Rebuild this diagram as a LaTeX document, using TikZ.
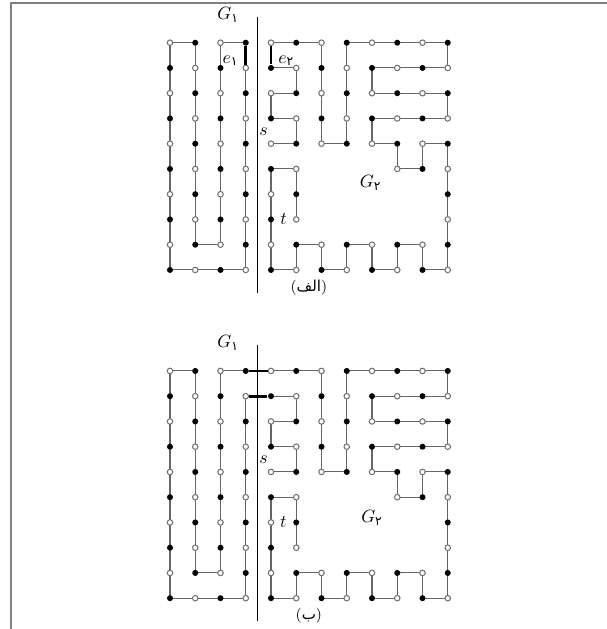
\documentclass[tikz,border=0pt]{standalone}
\usepackage{amsmath}
\usepackage{fontspec}
\newfontfamily\arabicfont[Script=Arabic]{DejaVu Sans}
\TeXXeTstate=1
\usetikzlibrary{backgrounds,positioning}
\newcommand{\fa}[1]{\text{\arabicfont #1}}

\begin{document}
\begin{tikzpicture}[x=0.5cm,y=-0.5cm,
    vtx/.style={circle,inner sep=0pt,line width=0.6pt},
    v0/.style={vtx,draw=black!55,fill=white,minimum size=3.1pt},
    v1/.style={vtx,fill=black,minimum size=3.4pt},
    edge/.style={draw=black!60,line width=0.6pt,line cap=round},
    cut/.style={draw=black,line width=1.5pt},
    divider/.style={line width=0.8pt},
    lab/.style={font=\fontsize{10}{12}\selectfont},
    caption/.style={font=\fontsize{8.5}{10}\selectfont}
  ]
    \useasboundingbox (-6.733,-1.691) rectangle (17.267,23.22);
    \draw[black!50,line width=0.7pt] (-6.297,23.4) -- (-6.297,-1.572) -- (17.4,-1.572);

    \foreach \p/\dy in {a/0,b/13}{
      \begin{scope}[shift={(0,\dy)}]
        % grid vertices, coloured by parity
        \foreach \i in {0,...,11}
          \foreach \j in {0,1,2,3,4,8,9}{
            \pgfmathtruncatemacro\odd{mod(\i+\j,2)}
            \node[v\odd] (\p-\i-\j) at (\i,\j) {};
          }
        \foreach \i in {0,1,2,3,4,5,11}
          \foreach \j in {5,6,7}{
            \pgfmathtruncatemacro\odd{mod(\i+\j,2)}
            \node[v\odd] (\p-\i-\j) at (\i,\j) {};
          }
        \foreach \i in {9,10}{
          \pgfmathtruncatemacro\odd{mod(\i+5,2)}
          \node[v\odd] (\p-\i-5) at (\i,5) {};
        }
        % path edges
        \begin{scope}[on background layer]
          \foreach \v [remember=\v as \u (initially 3-0)] in {2-0,2-8,1-8,1-0,0-0,0-9,3-9,3-1}
            \draw[edge] (\p-\u.center) -- (\p-\v.center);
          \foreach \v [remember=\v as \u (initially 4-4)] in {5-4,5-3,4-3,4-2,5-2,5-1,4-1}
            \draw[edge] (\p-\u.center) -- (\p-\v.center);
          \foreach \v [remember=\v as \u (initially 4-0)] in {5-0,6-0,6-4,7-4,7-0,11-0,11-1,8-1,
            8-2,11-2,11-3,8-3,8-4,9-4,9-5,10-5,10-4,11-4,11-9,10-9,10-8,9-8,9-9,8-9,8-8,
            7-8,7-9,6-9,6-8,5-8,5-9,4-9,4-5,5-5,5-7}
            \draw[edge] (\p-\u.center) -- (\p-\v.center);
        \end{scope}
        \draw[divider] (3.46,-1.02) -- (3.46,9.92);
        \node[lab] (\p-g1) at (2.3,-1.1) {$G_{\fa{۱}}$};
        \node[lab,above left=0pt and -3pt of \p-4-4] (\p-s) {$s$};
        \coordinate (\p-cap) at (5.5,9.7);
      \end{scope}
    }

    % (الف): one edge taken out of each cycle
    \draw[cut] (a-3-0) -- node[lab,left,yshift=-3pt]{$e_{\fa{۱}}$} (a-3-1);
    \draw[cut] (a-4-0) -- node[lab,right,yshift=-3pt]{$e_{\fa{۲}}$} (a-4-1);
    \node[lab,left] (a-t) at (a-5-7.west) {$t$};
    \node[lab] (a-g2) at (7.95,5.56) {$G_{\fa{۲}}$};
    \node[caption] (a-lab) at (a-cap) {({\arabicfont\beginR الف\endR})};

    % (ب): the two crossing edges
    \draw[cut] (b-3-0) -- (b-4-0);
    \draw[cut] (b-3-1) -- (b-4-1);
    \node[lab,left] (b-t) at (b-5-6.west) {$t$};
    \node[lab] (b-g2) at (8.0,18.82) {$G_{\fa{۲}}$};
    \node[caption] (b-lab) at (b-cap) {({\arabicfont\beginR ب\endR})};
  \end{tikzpicture}
\end{document}
